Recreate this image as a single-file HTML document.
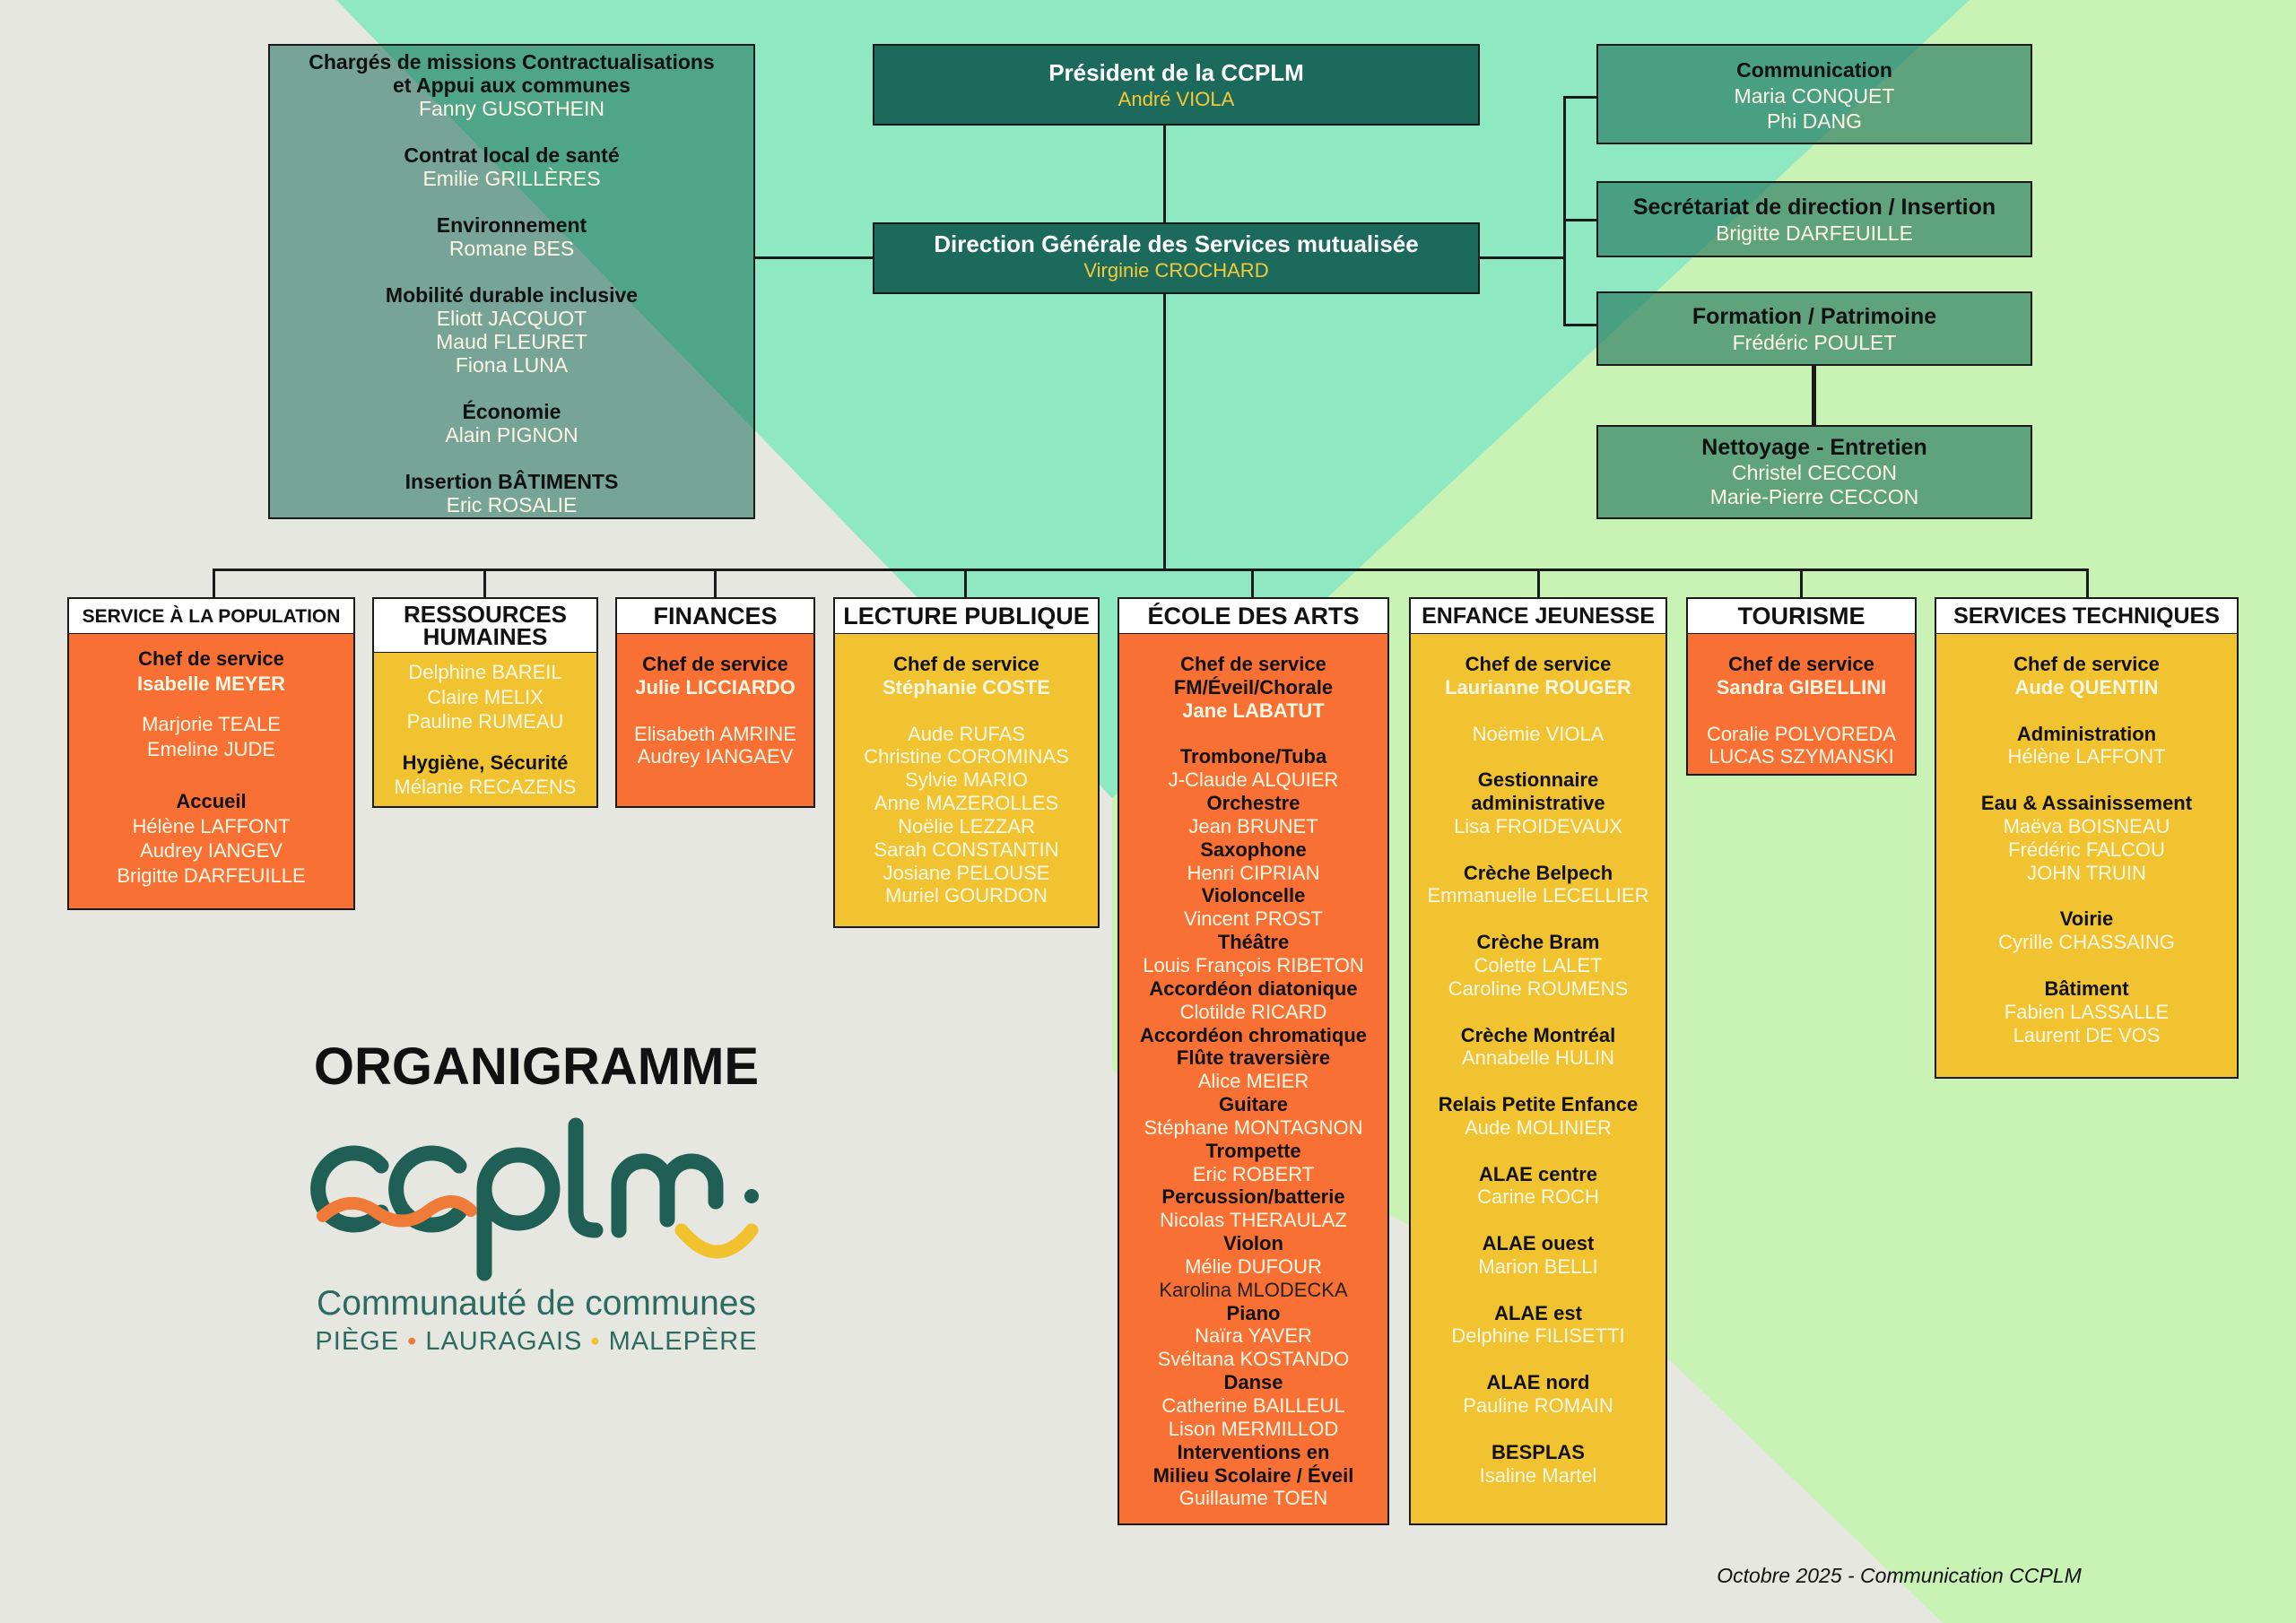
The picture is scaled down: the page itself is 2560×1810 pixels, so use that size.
<!DOCTYPE html>
<html><head><meta charset="utf-8">
<style>
*{margin:0;padding:0;box-sizing:border-box}
body{width:2560px;height:1810px;position:relative;overflow:hidden;background:#e7e7e2;font-family:"Liberation Sans",sans-serif}
.abs{position:absolute}
.box{position:absolute;border:2.5px solid #1a1a1a;text-align:center}
.t{color:#111;font-weight:bold}
.w{color:#fff8e6}
.y{color:#f6c93a}
.line{position:absolute;background:#1a1a1a}
.hdr{position:absolute;background:#fff;border:2.5px solid #1a1a1a;text-align:center;font-weight:bold;color:#111;display:flex;align-items:center;justify-content:center;line-height:1}
.bd{position:absolute;border:2.5px solid #1a1a1a;border-top:none;text-align:center;font-size:22px;line-height:25.85px}
.bd b{color:#111}
.bd .n{color:#fff8e6}
.or{background:#f97034}
.ye{background:#f2c330}
</style></head><body>
<svg class="abs" style="left:0;top:0" width="2560" height="1810">
<polygon points="2196,0 2560,0 2560,1810 2166,1810 1863,1518 1240,1194 1240,890" fill="#c9f3b4"/>
<polygon points="375,0 2196,0 1240,890" fill="#8ee8c1"/>
</svg>

<div class="line" style="left:1297px;top:139px;width:3px;height:110px"></div>
<div class="line" style="left:1297px;top:327px;width:3px;height:309px"></div>
<div class="line" style="left:841px;top:286px;width:133px;height:3px"></div>
<div class="line" style="left:1649px;top:286px;width:96px;height:3px"></div>
<div class="line" style="left:1743px;top:107px;width:3px;height:256px"></div>
<div class="line" style="left:1743px;top:107px;width:38px;height:3px"></div>
<div class="line" style="left:1743px;top:244px;width:38px;height:3px"></div>
<div class="line" style="left:1743px;top:361px;width:38px;height:3px"></div>
<div class="line" style="left:2020px;top:407px;width:5px;height:68px"></div>
<div class="line" style="left:237px;top:634px;width:2092px;height:3px"></div>
<div class="line" style="left:237px;top:634px;width:3px;height:33px"></div>
<div class="line" style="left:539px;top:634px;width:3px;height:33px"></div>
<div class="line" style="left:796px;top:634px;width:3px;height:33px"></div>
<div class="line" style="left:1075px;top:634px;width:3px;height:33px"></div>
<div class="line" style="left:1395px;top:634px;width:3px;height:33px"></div>
<div class="line" style="left:1714px;top:634px;width:3px;height:33px"></div>
<div class="line" style="left:2007px;top:634px;width:3px;height:33px"></div>
<div class="line" style="left:2326px;top:634px;width:3px;height:33px"></div>

<div class="box" style="left:299px;top:49px;width:543px;height:530px;background:rgba(25,110,88,0.55);padding-top:5px;font-size:23px;line-height:26px">
<div class="t">Chargés de missions Contractualisations<br>et Appui aux communes</div><div class="w">Fanny GUSOTHEIN</div><br>
<div class="t">Contrat local de santé</div><div class="w">Emilie GRILLÈRES</div><br>
<div class="t">Environnement</div><div class="w">Romane BES</div><br>
<div class="t">Mobilité durable inclusive</div><div class="w">Eliott JACQUOT<br>Maud FLEURET<br>Fiona LUNA</div><br>
<div class="t">Économie</div><div class="w">Alain PIGNON</div><br>
<div class="t">Insertion BÂTIMENTS</div><div class="w">Eric ROSALIE</div>
</div>

<div class="box" style="left:973px;top:49px;width:677px;height:91px;background:#1c6a5b;padding-top:16px;line-height:29px">
<div style="color:#fff;font-weight:bold;font-size:26px">Président de la CCPLM</div><div class="y" style="font-size:22px">André VIOLA</div></div>
<div class="box" style="left:973px;top:248px;width:677px;height:80px;background:#1c6a5b;padding-top:8px;line-height:29px">
<div style="color:#fff;font-weight:bold;font-size:26px">Direction Générale des Services mutualisée</div><div class="y" style="font-size:22px">Virginie CROCHARD</div></div>

<div class="box" style="left:1780px;top:49px;width:486px;height:112px;background:rgba(25,110,88,0.6);padding-top:13px;line-height:28.5px;font-size:23px">
<div class="t">Communication</div><div class="w">Maria CONQUET<br>Phi DANG</div></div>
<div class="box" style="left:1780px;top:202px;width:486px;height:85px;background:rgba(25,110,88,0.6);padding-top:13px;line-height:29px;font-size:23px">
<div class="t" style="font-size:25px">Secrétariat de direction / Insertion</div><div class="w">Brigitte DARFEUILLE</div></div>
<div class="box" style="left:1780px;top:325px;width:486px;height:83px;background:rgba(25,110,88,0.6);padding-top:12px;line-height:29px;font-size:23px">
<div class="t" style="font-size:25px">Formation / Patrimoine</div><div class="w">Frédéric POULET</div></div>
<div class="box" style="left:1780px;top:474px;width:486px;height:105px;background:rgba(25,110,88,0.6);padding-top:10px;line-height:27.5px;font-size:23px">
<div class="t" style="font-size:25px">Nettoyage - Entretien</div><div class="w">Christel CECCON<br>Marie-Pierre CECCON</div></div>

<div class="hdr" style="left:75px;top:666px;width:321px;height:42px;font-size:21px">SERVICE À LA POPULATION</div>
<div class="bd or" style="left:75px;top:707px;width:321px;height:308px;padding-top:14px;line-height:27.5px">
<b>Chef de service</b><br><b class="n" style="color:#fff8e6">Isabelle MEYER</b><div style="height:18px"></div>
<span class="n">Marjorie TEALE<br>Emeline JUDE</span><div style="height:31px"></div>
<b>Accueil</b><br><span class="n">Hélène LAFFONT<br>Audrey IANGEV<br>Brigitte DARFEUILLE</span></div>

<div class="hdr" style="left:415px;top:666px;width:252px;height:63px;font-size:26px;line-height:25px">RESSOURCES<br>HUMAINES</div>
<div class="bd ye" style="left:415px;top:728px;width:252px;height:173px;padding-top:8px;line-height:27.5px">
<span class="n">Delphine BAREIL<br>Claire MELIX<br>Pauline RUMEAU</span><div style="height:18px"></div>
<b>Hygiène, Sécurité</b><br><span class="n">Mélanie RECAZENS</span></div>

<div class="hdr" style="left:686px;top:666px;width:223px;height:42px;font-size:27px">FINANCES</div>
<div class="bd or" style="left:686px;top:707px;width:223px;height:194px;padding-top:21px">
<b>Chef de service</b><br><b class="n" style="color:#fff8e6">Julie LICCIARDO</b><br><br>
<span class="n">Elisabeth AMRINE<br>Audrey IANGAEV</span></div>

<div class="hdr" style="left:929px;top:666px;width:297px;height:42px;font-size:27px">LECTURE PUBLIQUE</div>
<div class="bd ye" style="left:929px;top:707px;width:297px;height:328px;padding-top:21px">
<b>Chef de service</b><br><b class="n" style="color:#fff8e6">Stéphanie COSTE</b><br><br>
<span class="n">Aude RUFAS<br>Christine COROMINAS<br>Sylvie MARIO<br>Anne MAZEROLLES<br>Noëlie LEZZAR<br>Sarah CONSTANTIN<br>Josiane PELOUSE<br>Muriel GOURDON</span></div>

<div class="hdr" style="left:1246px;top:666px;width:303px;height:42px;font-size:27px">ÉCOLE DES ARTS</div>
<div class="bd or" style="left:1246px;top:707px;width:303px;height:994px;padding-top:21px">
<b>Chef de service<br>FM/Éveil/Chorale</b><br><b class="n" style="color:#fff8e6">Jane LABATUT</b><br><br>
<b>Trombone/Tuba</b><br><span class="n">J-Claude ALQUIER</span><br>
<b>Orchestre</b><br><span class="n">Jean BRUNET</span><br>
<b>Saxophone</b><br><span class="n">Henri CIPRIAN</span><br>
<b>Violoncelle</b><br><span class="n">Vincent PROST</span><br>
<b>Théâtre</b><br><span class="n">Louis François RIBETON</span><br>
<b>Accordéon diatonique</b><br><span class="n">Clotilde RICARD</span><br>
<b>Accordéon chromatique</b><br><b>Flûte traversière</b><br><span class="n">Alice MEIER</span><br>
<b>Guitare</b><br><span class="n">Stéphane MONTAGNON</span><br>
<b>Trompette</b><br><span class="n">Eric ROBERT</span><br>
<b>Percussion/batterie</b><br><span class="n">Nicolas THERAULAZ</span><br>
<b>Violon</b><br><span class="n">Mélie DUFOUR</span><br><span style="color:#222">Karolina MLODECKA</span><br>
<b>Piano</b><br><span class="n">Naïra YAVER<br>Svéltana KOSTANDO</span><br>
<b>Danse</b><br><span class="n">Catherine BAILLEUL<br>Lison MERMILLOD</span><br>
<b>Interventions en<br>Milieu Scolaire / Éveil</b><br><span class="n">Guillaume TOEN</span></div>

<div class="hdr" style="left:1571px;top:666px;width:288px;height:42px;font-size:25px">ENFANCE JEUNESSE</div>
<div class="bd ye" style="left:1571px;top:707px;width:288px;height:994px;padding-top:21px">
<b>Chef de service</b><br><b class="n" style="color:#fff8e6">Laurianne ROUGER</b><br><br>
<span class="n">Noëmie VIOLA</span><br><br>
<b>Gestionnaire<br>administrative</b><br><span class="n">Lisa FROIDEVAUX</span><br><br>
<b>Crèche Belpech</b><br><span class="n">Emmanuelle LECELLIER</span><br><br>
<b>Crèche Bram</b><br><span class="n">Colette LALET<br>Caroline ROUMENS</span><br><br>
<b>Crèche Montréal</b><br><span class="n">Annabelle HULIN</span><br><br>
<b>Relais Petite Enfance</b><br><span class="n">Aude MOLINIER</span><br><br>
<b>ALAE centre</b><br><span class="n">Carine ROCH</span><br><br>
<b>ALAE ouest</b><br><span class="n">Marion BELLI</span><br><br>
<b>ALAE est</b><br><span class="n">Delphine FILISETTI</span><br><br>
<b>ALAE nord</b><br><span class="n">Pauline ROMAIN</span><br><br>
<b>BESPLAS</b><br><span class="n">Isaline Martel</span></div>

<div class="hdr" style="left:1880px;top:666px;width:257px;height:42px;font-size:27px">TOURISME</div>
<div class="bd or" style="left:1880px;top:707px;width:257px;height:158px;padding-top:21px">
<b>Chef de service</b><br><b class="n" style="color:#fff8e6">Sandra GIBELLINI</b><br><br>
<span class="n">Coralie POLVOREDA<br>LUCAS SZYMANSKI</span></div>

<div class="hdr" style="left:2157px;top:666px;width:339px;height:42px;font-size:25px">SERVICES TECHNIQUES</div>
<div class="bd ye" style="left:2157px;top:707px;width:339px;height:496px;padding-top:21px">
<b>Chef de service</b><br><b class="n" style="color:#fff8e6">Aude QUENTIN</b><br><br>
<b>Administration</b><br><span class="n">Hélène LAFFONT</span><br><br>
<b>Eau &amp; Assainissement</b><br><span class="n">Maëva BOISNEAU<br>Frédéric FALCOU<br>JOHN TRUIN</span><br><br>
<b>Voirie</b><br><span class="n">Cyrille CHASSAING</span><br><br>
<b>Bâtiment</b><br><span class="n">Fabien LASSALLE<br>Laurent DE VOS</span></div>

<div class="abs" style="left:336px;top:1156px;width:524px;text-align:center;font-size:58px;font-weight:bold;color:#111">ORGANIGRAMME</div>
<svg class="abs" style="left:0;top:0" width="2560" height="1810">
<g fill="none" stroke="#1f5f55" stroke-width="17" stroke-linecap="round">
<path d="M425,1300 A40,40 0 1 0 425,1352"/>
<path d="M512,1300 A40,40 0 1 0 512,1352"/>
<path d="M540,1420 V1326 A38,38 0 1 1 578,1364 A38,38 0 0 1 540,1326"/>
<path d="M642,1255 V1350 Q642,1372 664,1372"/>
<path d="M690,1372 V1322 A27,27 0 0 1 744,1322 V1360 M744,1322 A27,27 0 0 1 798,1322 V1340"/>
</g>
<circle cx="838" cy="1334" r="8" fill="#1f5f55"/>
<path d="M360,1356 Q390,1330 420,1352 Q450,1372 478,1350 Q505,1330 525,1350" fill="none" stroke="#f07a38" stroke-width="14" stroke-linecap="round"/>
<path d="M760,1372 Q800,1420 838,1372" fill="none" stroke="#f2c22e" stroke-width="15" stroke-linecap="round"/>
</svg>
<div class="abs" style="left:303px;top:1432px;width:590px;text-align:center;font-size:39px;color:#2b6b60;white-space:nowrap">Communauté de communes</div>
<div class="abs" style="left:303px;top:1480px;width:590px;text-align:center;font-size:29px;color:#2b6b60;letter-spacing:1px;white-space:nowrap">PIÈGE <span style="color:#f07a38">•</span> LAURAGAIS <span style="color:#f2c22e">•</span> MALEPÈRE</div>

<div class="abs" style="left:1900px;top:1744px;width:435px;text-align:center;font-size:23px;font-style:italic;color:#111">Octobre 2025 - Communication CCPLM</div>
</body></html>
